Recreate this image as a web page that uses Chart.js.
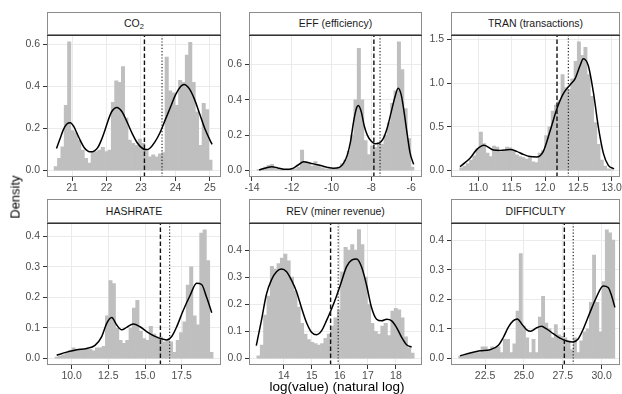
<!DOCTYPE html>
<html><head><meta charset="utf-8">
<script src="https://cdn.jsdelivr.net/npm/chart.js@4.4.1/dist/chart.umd.min.js"></script>
<style>
html,body{margin:0;padding:0;background:#fff;}
#root{position:relative;width:622px;height:394px;overflow:hidden;background:#fff;font-family:"Liberation Sans",Arial,sans-serif;}
#root canvas{position:absolute;z-index:2;}
.strip{position:absolute;box-sizing:border-box;border:1px solid #8c8c8c;border-bottom:none;background:#fff;color:#1a1a1a;font-size:10.5px;text-align:center;z-index:1;white-space:nowrap;}
.strip sub{font-size:7.5px;vertical-align:-2px;line-height:0;}
.ytitle{position:absolute;left:15px;top:197px;transform:translate(-50%,-50%) rotate(-90deg);font-size:13px;color:#000;white-space:nowrap;z-index:3;}
.xtitle{position:absolute;left:337px;top:386px;transform:translate(-50%,-50%);font-size:13.5px;color:#000;white-space:nowrap;z-index:3;}
</style></head>
<body><div id="root">
<div class="ytitle">Density</div>
<div class="xtitle">log(value) (natural log)</div>
</div>
<script>
// ---------------- DATA ----------------
// CO2
const co2Start = 20.48, co2BinWidth = 0.0975;
const co2Hist = [0.019,0.058,0.113,0.31,0.613,0.19,0.18,0.145,0.097,0.058,0.035,0.085,0.09,0.097,0.11,0.09,0.097,0.325,0.427,0.42,0.495,0.25,0.145,0.13,0.12,0.15,0.13,0.10,0.065,0.075,0.065,0.08,0.085,0.54,0.38,0.37,0.31,0.43,0.42,0.55,0.61,0.42,0.28,0.12,0.32,0.29,0.05];
const co2DensX = [20.55,20.65,20.75,20.85,20.95,21.05,21.15,21.25,21.35,21.45,21.55,21.65,21.75,21.85,21.95,22.05,22.15,22.3,22.45,22.6,22.75,22.9,23.05,23.15,23.25,23.4,23.55,23.7,23.85,24.0,24.15,24.25,24.4,24.55,24.7,24.85,25.0,25.06];
const co2DensY = [0.105,0.15,0.195,0.222,0.228,0.21,0.175,0.14,0.11,0.094,0.089,0.094,0.11,0.145,0.19,0.24,0.28,0.30,0.28,0.23,0.175,0.13,0.105,0.10,0.105,0.135,0.18,0.24,0.30,0.36,0.40,0.41,0.39,0.34,0.27,0.20,0.145,0.125];
const co2Mean = 23.10, co2Median = 23.61;
const co2XTicks = ["21","22","23","24","25"];
const co2YTicks = ["0.0","0.2","0.4","0.6"];
const co2XRange = [20.275, 25.32], co2YRange = [-0.0307, 0.644];

// EFF
const effStart = -13.75, effBinWidth = 0.168;
const effHist = [0.005,0.01,0.02,0.03,0.035,0.02,0.01,0.008,0.005,0.005,0.005,0.01,0.02,0.115,0.05,0.04,0.025,0.05,0.03,0.015,0.01,0.01,0.01,0.01,0.02,0.04,0.06,0.11,0.2,0.4,0.69,0.4,0.17,0.09,0.14,0.13,0.16,0.15,0.2,0.27,0.38,0.45,0.7275,0.57,0.35,0.18,0.02];
const effDensX = [-13.65,-13.3,-13.0,-12.7,-12.3,-12.0,-11.7,-11.4,-11.1,-10.8,-10.5,-10.2,-9.9,-9.6,-9.4,-9.2,-9.05,-8.9,-8.75,-8.65,-8.5,-8.35,-8.2,-8.0,-7.8,-7.6,-7.4,-7.2,-7.0,-6.8,-6.65,-6.5,-6.35,-6.2,-6.05,-5.87];
const effDensY = [0.004,0.015,0.022,0.015,0.007,0.01,0.03,0.05,0.043,0.035,0.027,0.018,0.013,0.018,0.04,0.09,0.16,0.27,0.35,0.367,0.33,0.25,0.2,0.165,0.152,0.155,0.18,0.24,0.33,0.42,0.465,0.43,0.33,0.21,0.1,0.035];
const effMean = -7.87, effMedian = -7.56;
const effXTicks = ["-14","-12","-10","-8","-6"];
const effYTicks = ["0.0","0.2","0.4","0.6"];
const effXRange = [-14.15, -5.45], effYRange = [-0.0364, 0.764];

// TRAN
const tranStart = 10.72, tranBinWidth = 0.049;
const tranHist = [0.03,0.05,0.08,0.12,0.17,0.25,0.44,0.31,0.2,0.16,0.28,0.27,0.21,0.22,0.27,0.26,0.22,0.18,0.16,0.15,0.13,0.15,0.1,0.09,0.2,0.23,0.4,0.5,0.68,0.75,0.8,1.1,0.95,0.93,1.05,1.25,1.475,1.32,1.41,1.1,0.85,0.55,0.3,0.12,0.05,0.02,0.01];
const tranDensX = [10.725,10.8,10.875,10.975,11.085,11.225,11.33,11.475,11.575,11.675,11.775,11.875,11.975,12.075,12.175,12.275,12.375,12.45,12.525,12.575,12.65,12.725,12.8,12.875,12.95,13.035];
const tranDensY = [0.045,0.09,0.14,0.24,0.29,0.235,0.23,0.24,0.22,0.185,0.16,0.155,0.22,0.45,0.7,0.88,0.98,1.05,1.2,1.28,1.2,0.9,0.5,0.2,0.06,0.02];
const tranMean = 12.18, tranMedian = 12.35;
const tranXTicks = ["11.0","11.5","12.0","12.5","13.0"];
const tranYTicks = ["0.0","0.5","1.0","1.5"];
const tranXRange = [10.59, 13.125], tranYRange = [-0.0738, 1.549];

// HASHRATE
const hashStart = 8.86, hashBinWidth = 0.2294;
const hashHist = [0.005,0.008,0.012,0.02,0.025,0.035,0.03,0.03,0.028,0.03,0.03,0.025,0.035,0.035,0.04,0.14,0.255,0.245,0.1,0.06,0.05,0.06,0.1,0.165,0.19,0.09,0.065,0.06,0.105,0.08,0.07,0.07,0.055,0.06,0.055,0.02,0.06,0.085,0.12,0.24,0.3,0.14,0.11,0.41,0.421,0.32,0.02];
const hashDensX = [8.98,9.66,10.34,11.02,11.59,12.05,12.39,12.73,13.07,13.41,13.75,14.2,14.66,15.11,15.57,16.02,16.48,16.82,17.16,17.61,18.07,18.52,18.86,19.2,19.55];
const hashDensY = [0.011,0.021,0.029,0.033,0.043,0.072,0.115,0.134,0.11,0.094,0.102,0.113,0.104,0.088,0.075,0.066,0.061,0.072,0.104,0.158,0.206,0.246,0.242,0.2,0.15];
const hashMean = 16.05, hashMedian = 16.68;
const hashXTicks = ["10.0","12.5","15.0","17.5"];
const hashYTicks = ["0.0","0.1","0.2","0.3","0.4"];
const hashXRange = [8.32, 20.18], hashYRange = [-0.021, 0.442];

// REV
const revStart = 13.04, revBinWidth = 0.1194;
const revHist = [0.01,0.05,0.16,0.23,0.34,0.33,0.35,0.37,0.385,0.36,0.3,0.25,0.19,0.13,0.09,0.07,0.06,0.055,0.05,0.055,0.075,0.09,0.12,0.15,0.18,0.32,0.41,0.4,0.42,0.4,0.475,0.42,0.3,0.2,0.13,0.1,0.09,0.12,0.13,0.085,0.175,0.185,0.18,0.15,0.08,0.04,0.02];
const revDensX = [13.02,13.2,13.38,13.56,13.74,13.92,14.1,14.27,14.45,14.63,14.81,14.99,15.17,15.35,15.52,15.7,15.88,16.06,16.24,16.42,16.6,16.77,16.95,17.13,17.31,17.49,17.67,17.85,18.02,18.2,18.38,18.56];
const revDensY = [0.048,0.139,0.236,0.29,0.32,0.33,0.32,0.29,0.248,0.188,0.133,0.097,0.088,0.103,0.139,0.182,0.23,0.284,0.339,0.363,0.367,0.339,0.272,0.188,0.145,0.139,0.145,0.139,0.115,0.079,0.051,0.042];
const revMean = 15.67, revMedian = 15.94;
const revXTicks = ["14","15","16","17","18"];
const revYTicks = ["0.0","0.1","0.2","0.3","0.4"];
const revXRange = [12.76, 18.93], revYRange = [-0.0237, 0.4986];

// DIFFICULTY
const diffStart = 20.8, diffBinWidth = 0.205;
const diffHist = [0.008,0.01,0.012,0.015,0.018,0.02,0.02,0.04,0.04,0.025,0.04,0.035,0.04,0.02,0.065,0.065,0.02,0.05,0.16,0.355,0.11,0.07,0.02,0.065,0.02,0.14,0.21,0.12,0.1,0.07,0.115,0.08,0.075,0.07,0.06,0.03,0.07,0.02,0.06,0.09,0.1,0.19,0.35,0.19,0.09,0.26,0.435,0.425,0.4];
const diffDensX = [20.89,21.54,22.18,22.82,23.36,23.68,24.0,24.32,24.58,24.86,25.18,25.43,25.82,26.14,26.46,26.89,27.32,27.75,28.17,28.5,28.82,29.25,29.67,30.1,30.42,30.64,30.85];
const diffDensY = [0.009,0.019,0.026,0.03,0.045,0.072,0.106,0.128,0.134,0.117,0.097,0.092,0.104,0.109,0.1,0.084,0.069,0.059,0.056,0.067,0.1,0.156,0.208,0.245,0.24,0.212,0.173];
const diffMean = 27.6, diffMedian = 28.17;
const diffXTicks = ["22.5","25.0","27.5","30.0"];
const diffYTicks = ["0.0","0.1","0.2","0.3","0.4"];
const diffXRange = [20.31, 31.18], diffYRange = [-0.0218, 0.457];

// ---------------- LAYOUT ----------------
const COL_L = [47, 249, 451], COL_R = [221, 422, 620];
const ROW_STRIP = [12, 199], ROW_T = [34, 222], ROW_B = [177, 365];

const panels = [
  {title:'CO<sub>2</sub>', col:0,row:0, start:co2Start, bw:co2BinWidth, hist:co2Hist, dx:co2DensX, dy:co2DensY, mean:co2Mean, median:co2Median, xt:co2XTicks, yt:co2YTicks, xr:co2XRange, yr:co2YRange},
  {title:'EFF (efficiency)', col:1,row:0, start:effStart, bw:effBinWidth, hist:effHist, dx:effDensX, dy:effDensY, mean:effMean, median:effMedian, xt:effXTicks, yt:effYTicks, xr:effXRange, yr:effYRange},
  {title:'TRAN (transactions)', col:2,row:0, start:tranStart, bw:tranBinWidth, hist:tranHist, dx:tranDensX, dy:tranDensY, mean:tranMean, median:tranMedian, xt:tranXTicks, yt:tranYTicks, xr:tranXRange, yr:tranYRange},
  {title:'HASHRATE', col:0,row:1, start:hashStart, bw:hashBinWidth, hist:hashHist, dx:hashDensX, dy:hashDensY, mean:hashMean, median:hashMedian, xt:hashXTicks, yt:hashYTicks, xr:hashXRange, yr:hashYRange},
  {title:'REV (miner revenue)', col:1,row:1, start:revStart, bw:revBinWidth, hist:revHist, dx:revDensX, dy:revDensY, mean:revMean, median:revMedian, xt:revXTicks, yt:revYTicks, xr:revXRange, yr:revYRange},
  {title:'DIFFICULTY', col:2,row:1, start:diffStart, bw:diffBinWidth, hist:diffHist, dx:diffDensX, dy:diffDensY, mean:diffMean, median:diffMedian, xt:diffXTicks, yt:diffYTicks, xr:diffXRange, yr:diffYRange}
];

const root = document.getElementById('root');
const FONT = {family:'"Liberation Sans", Arial, sans-serif', size:10.5};
const TICKCOL = '#4d4d4d';

const boxPlugin = {
  id:'panelBox',
  afterDatasetsDraw(chart){
    const a = chart.chartArea, ctx = chart.ctx;
    ctx.save();
    ctx.strokeStyle = '#8c8c8c'; ctx.lineWidth = 1;
    ctx.strokeRect(a.left + 0.5, a.top, a.right - a.left - 1, a.bottom - a.top - 0.5);
    ctx.strokeStyle = '#333'; ctx.lineWidth = 1.5;
    ctx.beginPath(); ctx.moveTo(a.left, a.top); ctx.lineTo(a.right, a.top); ctx.stroke();
    ctx.restore();
  }
};

panels.forEach(p => {
  const pl = COL_L[p.col], pr = COL_R[p.col], pt = ROW_T[p.row], pb = ROW_B[p.row], st = ROW_STRIP[p.row];
  const strip = document.createElement('div');
  strip.className = 'strip';
  strip.style.left = pl + 'px'; strip.style.top = st + 'px';
  strip.style.width = (pr - pl) + 'px'; strip.style.height = (pt - st) + 'px';
  strip.style.lineHeight = (pt - st - 1) + 'px';
  strip.innerHTML = p.title;
  root.appendChild(strip);

  const padL = 42, padT = 8, padR = 10, padB = 26;
  const w = pr - pl + padL + padR, h = pb - pt + padT + padB;
  const cv = document.createElement('canvas');
  cv.width = w; cv.height = h;
  cv.style.left = (pl - padL) + 'px'; cv.style.top = (pt - padT) + 'px';
  cv.style.width = w + 'px'; cv.style.height = h + 'px';
  root.appendChild(cv);

  const bars = p.hist.map((v, i) => ({x: p.start + p.bw * (i + 0.5), y: v}));
  const dens = p.dx.map((x, i) => ({x: x, y: p.dy[i]}));
  new Chart(cv, {
    type: 'bar',
    data: {datasets: [
      {type:'bar', data: bars, backgroundColor:'#bfbfbf', borderWidth:0, barPercentage:1, categoryPercentage:1, order:4},
      {type:'line', data: dens, borderColor:'#000', borderWidth:1.5, pointRadius:0, fill:false, cubicInterpolationMode:'monotone', order:3},
      {type:'line', data: [{x:p.mean, y:p.yr[0]}, {x:p.mean, y:p.yr[1]}], borderColor:'#111', borderWidth:1.4, borderDash:[4.5,2.5], pointRadius:0, fill:false, order:2},
      {type:'line', data: [{x:p.median, y:p.yr[0]}, {x:p.median, y:p.yr[1]}], borderColor:'#111', borderWidth:1.1, borderDash:[1.2,2], pointRadius:0, fill:false, order:1}
    ]},
    options: {
      responsive:false, animation:false, devicePixelRatio:1,
      layout:{padding:{left:0, top:padT, right:padR, bottom:0}},
      plugins:{legend:{display:false}, tooltip:{enabled:false}},
      scales:{
        x:{type:'linear', min:p.xr[0], max:p.xr[1], offset:false,
           afterBuildTicks: s => { s.ticks = p.xt.map(t => ({value: parseFloat(t)})); },
           afterFit: s => { s.height = padB; },
           ticks:{callback:(v, i) => p.xt[i], font:FONT, color:TICKCOL, padding:1, maxRotation:0, autoSkip:false},
           grid:{offset:false, color:'#ebebeb', lineWidth:1, tickColor:'#333', tickLength:4, drawTicks:true},
           border:{display:false}},
        y:{type:'linear', min:p.yr[0], max:p.yr[1], beginAtZero:false,
           afterBuildTicks: s => { s.ticks = p.yt.map(t => ({value: parseFloat(t)})); },
           afterFit: s => { s.width = padL; },
           ticks:{callback:(v, i) => p.yt[i], font:FONT, color:TICKCOL, padding:3, autoSkip:false},
           grid:{color:'#ebebeb', lineWidth:1, tickColor:'#333', tickLength:4, drawTicks:true},
           border:{display:false}}
      }
    },
    plugins:[boxPlugin]
  });
});
</script>
</body></html>
